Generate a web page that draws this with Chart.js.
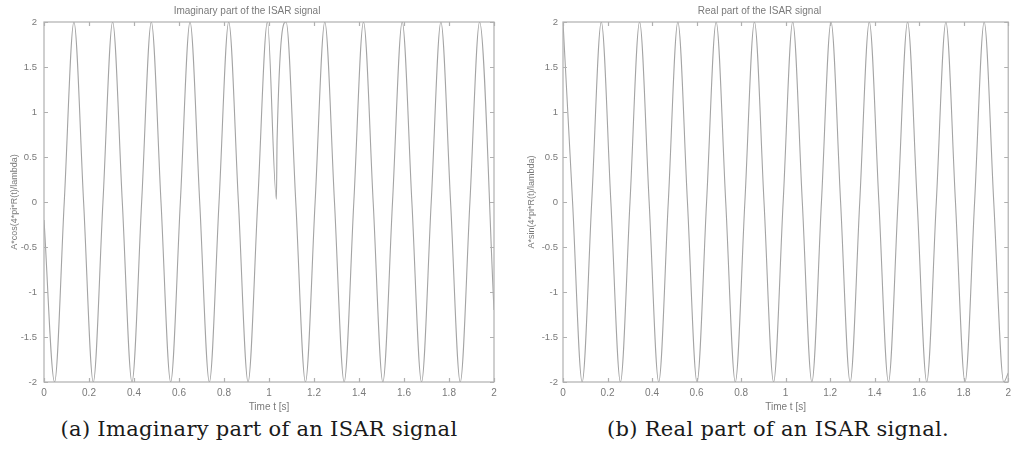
<!DOCTYPE html>
<html>
<head>
<meta charset="utf-8">
<script src="https://cdn.jsdelivr.net/npm/chart.js@4.4.1/dist/chart.umd.min.js"></script>
<style>
  html, body { margin: 0; padding: 0; background: #fff; }
  body { width: 1016px; height: 467px; position: relative; overflow: hidden; }
  .plot { position: absolute; top: 0; height: 415px; }
  .caption {
    position: absolute; top: 417px; white-space: nowrap;
    font-family: "DejaVu Serif", serif; font-size: 21px; letter-spacing: 0.3px; color: #1a1a1a;
    transform: translateX(-50%);
  }
</style>
</head>
<body>
<div class="plot" style="left:0; width:505px"><canvas id="imagChart"></canvas></div>
<div class="plot" style="left:510px; width:506px"><canvas id="realChart"></canvas></div>
<div class="caption" style="left:259px">(a) Imaginary part of an ISAR signal</div>
<div class="caption" style="left:778px">(b) Real part of an ISAR signal.</div>

<script>
// values: peaks, troughs and zero crossings (time in s)
const imagTime = [0.000, 0.047, 0.090, 0.133, 0.176, 0.219, 0.262, 0.305, 0.348, 0.391,
                  0.434, 0.477, 0.520, 0.563, 0.606, 0.649, 0.692, 0.735, 0.778, 0.821,
                  0.864, 0.907, 0.950, 0.993, 1.033, 1.036, 1.076, 1.119, 1.162, 1.205,
                  1.248, 1.291, 1.334, 1.377, 1.420, 1.463, 1.506, 1.549, 1.592, 1.635,
                  1.678, 1.721, 1.764, 1.807, 1.850, 1.893, 1.936, 2.000];
const imagValue = [-0.2, -2, 0, 2, 0, -2, 0, 2, 0, -2,
                   0, 2, 0, -2, 0, 2, 0, -2, 0, 2,
                   0, -2, 0, 2, 0.03, 0.7, 2, 0, -2, 0,
                   2, 0, -2, 0, 2, 0, -2, 0, 2, 0,
                   -2, 0, 2, 0, -2, 0, 2, -1.2];

const realTime = [0.000, 0.043, 0.086, 0.129, 0.172, 0.215, 0.258, 0.301, 0.344, 0.387,
                  0.430, 0.473, 0.516, 0.559, 0.602, 0.645, 0.688, 0.731, 0.774, 0.817,
                  0.860, 0.903, 0.946, 0.989, 1.032, 1.075, 1.118, 1.161, 1.204, 1.247,
                  1.290, 1.333, 1.376, 1.419, 1.462, 1.505, 1.548, 1.591, 1.634, 1.677,
                  1.720, 1.763, 1.806, 1.849, 1.892, 1.935, 1.980, 2.000];
const realValue = [2, 0, -2, 0, 2, 0, -2, 0, 2, 0,
                   -2, 0, 2, 0, -2, 0, 2, 0, -2, 0,
                   2, 0, -2, 0, 2, 0, -2, 0, 2, 0,
                   -2, 0, 2, 0, -2, 0, 2, 0, -2, 0,
                   2, 0, -2, 0, 2, 0, -2, -1.9];

const xTickValues = [0, 0.2, 0.4, 0.6, 0.8, 1, 1.2, 1.4, 1.6, 1.8, 2];
const yTickValues = [-2, -1.5, -1, -0.5, 0, 0.5, 1, 1.5, 2];

const axisColor = '#b0b0b0';
const lineColor = '#a4a4a4';
const textColor = '#7a7a7a';

// matlab style frame with ticks pointing inwards
const matlabFrame = {
    id: 'matlabFrame',
    afterDatasetsDraw(chart) {
        const { ctx, chartArea: a, scales: { x, y } } = chart;
        ctx.save();
        ctx.strokeStyle = axisColor;
        ctx.lineWidth = 1.2;
        ctx.strokeRect(a.left, a.top, a.right - a.left, a.bottom - a.top);
        ctx.beginPath();
        x.ticks.forEach(t => {
            const px = Math.round(x.getPixelForValue(t.value)) + 0.5;
            ctx.moveTo(px, a.top); ctx.lineTo(px, a.top + 4);
            ctx.moveTo(px, a.bottom); ctx.lineTo(px, a.bottom - 4);
        });
        y.ticks.forEach(t => {
            const py = Math.round(y.getPixelForValue(t.value)) + 0.5;
            ctx.moveTo(a.left, py); ctx.lineTo(a.left + 4, py);
            ctx.moveTo(a.right, py); ctx.lineTo(a.right - 4, py);
        });
        ctx.stroke();
        ctx.restore();
    }
};

const plainNumber = v => String(Math.round(v * 10) / 10);

function makeChart(id, times, values, title, yLabel, opts) {
    const ctx = document.getElementById(id);
    const points = times.map((t, i) => ({ x: t, y: values[i] }));

    new Chart(ctx, {
        type: 'line',
        data: {
            datasets: [{
                data: points,
                borderColor: lineColor,
                borderWidth: 1.1,
                pointRadius: 0,
                cubicInterpolationMode: 'monotone',
                fill: false
            }]
        },
        options: {
            responsive: true,
            maintainAspectRatio: false,
            animation: false,
            layout: { padding: { left: 0, right: opts.right, top: 0, bottom: 0 } },
            plugins: {
                legend: { display: false },
                tooltip: { enabled: false },
                title: {
                    display: true,
                    text: title,
                    color: textColor,
                    font: { family: 'Liberation Sans', size: 10, weight: 'normal' },
                    padding: { top: 5, bottom: 5 }
                }
            },
            scales: {
                x: {
                    type: 'linear',
                    min: 0,
                    max: 2,
                    afterBuildTicks: s => { s.ticks = xTickValues.map(v => ({ value: v })); },
                    afterFit: s => { s.height = 33; },
                    grid: { display: false, drawTicks: false },
                    border: { display: false },
                    ticks: {
                        color: textColor,
                        font: { family: 'Liberation Sans', size: 10 },
                        padding: 5,
                        maxRotation: 0,
                        autoSkip: false,
                        callback: plainNumber
                    },
                    title: {
                        display: true,
                        text: 'Time t [s]',
                        color: textColor,
                        font: { family: 'Liberation Sans', size: 10 },
                        padding: { top: 0, bottom: 2 }
                    }
                },
                y: {
                    min: -2,
                    max: 2,
                    afterBuildTicks: s => { s.ticks = yTickValues.map(v => ({ value: v })); },
                    afterFit: s => { s.width = opts.yWidth; },
                    grid: { display: false, drawTicks: false },
                    border: { display: false },
                    ticks: {
                        color: textColor,
                        font: { family: 'Liberation Sans', size: 9.5 },
                        padding: opts.tickPad,
                        callback: plainNumber
                    },
                    title: {
                        display: true,
                        text: yLabel,
                        color: textColor,
                        font: { family: 'Liberation Sans', size: 9 },
                        padding: { top: opts.titlePad, bottom: 0 }
                    }
                }
            }
        },
        plugins: [matlabFrame]
    });
}

document.addEventListener('DOMContentLoaded', () => {
    makeChart('imagChart', imagTime, imagValue, 'Imaginary part of the ISAR signal',
        'A*cos(4*pi*R(t)/lambda)', { right: 11, yWidth: 44, tickPad: 7, titlePad: 9 });
    makeChart('realChart', realTime, realValue, 'Real part of the ISAR signal',
        'A*sin(4*pi*R(t)/lambda)', { right: 7, yWidth: 53, tickPad: 5, titlePad: 16 });
});
</script>
</body>
</html>
